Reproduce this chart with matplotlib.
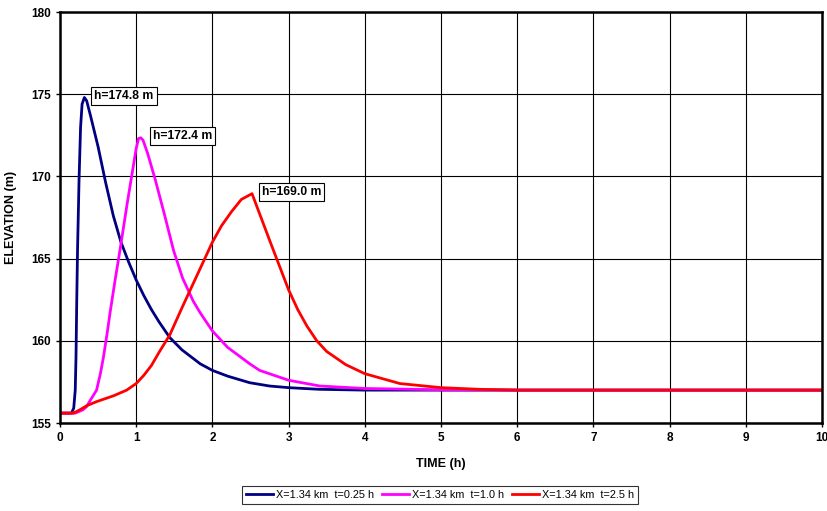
import matplotlib
matplotlib.use("Agg")
import matplotlib.pyplot as plt

plt.rcParams["font.family"] = ["Liberation Sans", "DejaVu Sans"]

# hydrographs, time (h) vs elevation (m)
t_blue = [0, 0.15, 0.18, 0.2, 0.21, 0.22, 0.23, 0.25, 0.27, 0.29, 0.32, 0.35,
          0.4, 0.5, 0.6, 0.7, 0.8, 0.9, 1.0, 1.1, 1.2, 1.3, 1.44, 1.6, 1.84,
          2.0, 2.2, 2.49, 2.75, 3.0, 3.4, 4.0, 5.0, 6.0, 10.0]
h_blue = [155.6, 155.6, 155.9, 157.0, 159.0, 162.5, 165.5, 169.8, 173.0, 174.4,
          174.8, 174.6, 173.7, 171.8, 169.6, 167.6, 166.0, 164.8, 163.7, 162.75,
          161.9, 161.15, 160.2, 159.45, 158.6, 158.2, 157.85, 157.45, 157.25,
          157.15, 157.05, 157.0, 157.0, 157.0, 157.0]

t_pink = [0, 0.2, 0.3, 0.35, 0.4, 0.48, 0.53, 0.57, 0.62, 0.66, 0.72, 0.79,
          0.83, 0.88, 0.94, 1.0, 1.03, 1.06, 1.09, 1.15, 1.25, 1.37, 1.49, 1.61,
          1.75, 1.84, 2.0, 2.2, 2.49, 2.62, 3.0, 3.41, 4.0, 5.0, 6.0, 10.0]
h_pink = [155.6, 155.6, 155.8, 156.0, 156.4, 157.0, 158.0, 159.0, 160.5, 161.8,
          163.6, 165.6, 166.8, 168.3, 170.0, 171.7, 172.3, 172.35, 172.2, 171.4,
          169.8, 167.7, 165.5, 163.8, 162.4, 161.7, 160.6, 159.6, 158.6, 158.2,
          157.6, 157.25, 157.1, 157.02, 157.0, 157.0]

t_red = [0, 0.175, 0.26, 0.35, 0.48, 0.7, 0.875, 1.0, 1.1, 1.2, 1.3, 1.44, 1.6,
         1.71, 1.95, 2.0, 2.12, 2.25, 2.38, 2.52, 2.76, 3.0, 3.12, 3.24, 3.37,
         3.5, 3.75, 4.0, 4.46, 5.0, 5.5, 6.0, 10.0]
h_red = [155.6, 155.6, 155.8, 156.05, 156.3, 156.65, 157.0, 157.4, 157.9,
         158.5, 159.3, 160.35, 162.0, 163.1, 165.5, 166.0, 167.0, 167.85, 168.6,
         168.95, 166.0, 163.1, 161.9, 160.9, 160.0, 159.35, 158.55, 158.0,
         157.4, 157.15, 157.05, 157.0, 157.0]

labels = ["X=1.34 km  t=0.25 h", "X=1.34 km  t=1.0 h", "X=1.34 km  t=2.5 h"]
peaks = [(0.33, 174.8), (1.05, 172.4), (2.5, 169.0)]
peak_text = ["h=174.8 m", "h=172.4 m", "h=169.0 m"]

fig = plt.figure(figsize=(8.27, 5.11), dpi=100)
ax = fig.add_axes([60 / 827, 1 - 423 / 511, 762 / 827, 411 / 511])

ax.plot(t_blue, h_blue, color="#000080", lw=2, label=labels[0])
ax.plot(t_pink, h_pink, color="#ff00ff", lw=2, label=labels[1])
ax.plot(t_red, h_red, color="#ff0000", lw=2, label=labels[2])

box = dict(boxstyle="square,pad=0.25", fc="white", ec="black", lw=0.8)
offsets = [(0.12, 0.1), (0.17, 0.05), (0.15, 0.05)]
for (px, py), txt, (dx, dy) in zip(peaks, peak_text, offsets):
    ax.text(px + dx, py + dy, txt, fontsize=8.7, fontweight="bold",
            va="center", ha="left", bbox=box)

ax.set_xlim(0, 10)
ax.set_ylim(155, 180)
ax.set_xticks(range(0, 11))
ax.set_yticks(range(155, 181, 5))
ax.grid(True, color="black", lw=0.8)
ax.set_axisbelow(True)
for s in ax.spines.values():
    s.set_linewidth(1.8)
ax.tick_params(labelsize=8.5, length=3, width=1)
for lab in ax.get_xticklabels() + ax.get_yticklabels():
    lab.set_fontweight("bold")
ax.set_xlabel("TIME (h)", fontsize=9, fontweight="bold", labelpad=10)
ax.set_ylabel("ELEVATION (m)", fontsize=9, fontweight="bold", labelpad=10)

leg = fig.legend(loc="center", bbox_to_anchor=(440 / 827, 1 - 495 / 511), ncol=3,
                 fontsize=7.8, frameon=True, fancybox=False, handlelength=2.5,
                 handletextpad=0.2, columnspacing=0.8, borderpad=0.35)
leg.get_frame().set_edgecolor("black")
leg.get_frame().set_linewidth(0.8)

fig.savefig("out.png", dpi=100)
